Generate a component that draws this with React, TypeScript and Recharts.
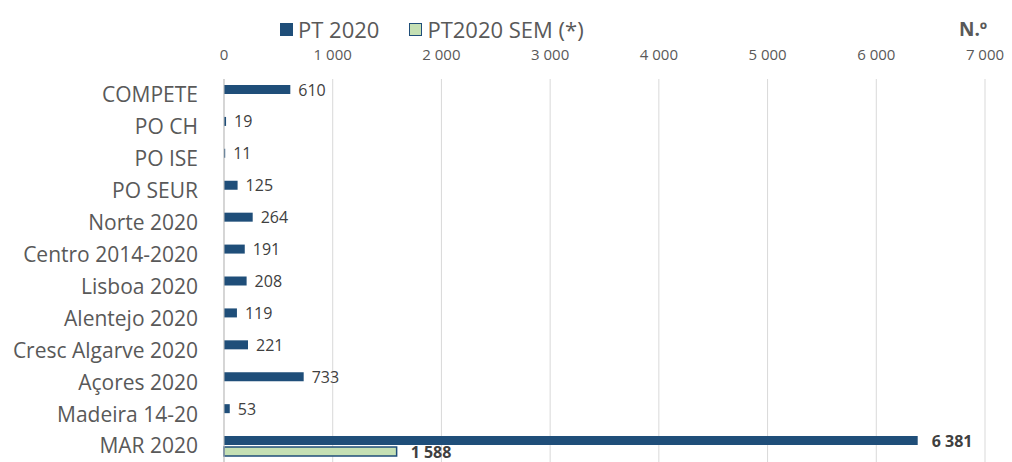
import React from 'react';
import { BarChart, Bar, XAxis, YAxis, CartesianGrid, LabelList } from 'recharts';

const categories = [
  'COMPETE',
  'PO CH',
  'PO ISE',
  'PO SEUR',
  'Norte 2020',
  'Centro 2014-2020',
  'Lisboa 2020',
  'Alentejo 2020',
  'Cresc Algarve 2020',
  'Açores 2020',
  'Madeira 14-20',
  'MAR 2020',
];
const pt2020 = [610, 19, 11, 125, 264, 191, 208, 119, 221, 733, 53, 6381];
const pt2020Sem: (number | null)[] = [null, null, null, null, null, null, null, null, null, null, null, 1588];
const xTicks = [0, 1000, 2000, 3000, 4000, 5000, 6000, 7000];
const boldCategory = 'MAR 2020';

const FONT = '"Open Sans", Lato, sans-serif';
const BLUE = '#1F4E79';
const GREEN = '#C5E0B4';

const chartData = categories.map((name, i) => ({
  name,
  pt: pt2020[i],
  sem: pt2020Sem[i],
}));

// thousands with a space, like the original (6 381)
const fmt = (v: number) => String(v).replace(/\B(?=(\d{3})+(?!\d))/g, ' ');

const makeLabel = (alwaysBold: boolean) => (props: any) => {
  const { x, y, width, height, value, index } = props;
  if (value === null || value === undefined) return null;
  const bold = alwaysBold || categories[index] === boldCategory;
  return (
    <text
      x={x + width + (bold ? 14 : 8)}
      y={y + height / 2}
      dy={6}
      fill="#404040"
      fontSize={16}
      fontFamily={FONT}
      fontWeight={bold ? 700 : 400}
    >
      {fmt(value)}
    </text>
  );
};
const PtLabel = makeLabel(false);
const SemLabel = makeLabel(true);

export default function App() {
  return (
    <div style={{ position: 'absolute', left: 0, top: 0, width: 1012, height: 462, background: '#fff' }}>
      <div
        style={{
          position: 'absolute',
          left: 280,
          top: 20,
          display: 'flex',
          alignItems: 'center',
          fontFamily: FONT,
          fontSize: 22,
          lineHeight: '18px',
          color: '#595959',
          whiteSpace: 'nowrap',
        }}
      >
        <span style={{ width: 13, height: 13, background: BLUE, display: 'inline-block', marginRight: 5 }} />
        <span style={{ marginRight: 30 }}>PT 2020</span>
        <span style={{ width: 11, height: 11, background: GREEN, border: `1.5px solid ${BLUE}`, display: 'inline-block', marginRight: 5 }} />
        <span>PT2020 SEM (*)</span>
      </div>
      <div
        style={{
          position: 'absolute',
          left: 959,
          top: 20,
          fontFamily: FONT,
          fontSize: 19,
          lineHeight: '19px',
          fontWeight: 700,
          color: '#595959',
        }}
      >
        N.º
      </div>
      <BarChart
        width={1012}
        height={462}
        data={chartData}
        layout="vertical"
        margin={{ top: 40, right: 27, left: 0, bottom: 0 }}
        barSize={9}
        barGap={2}
      >
        <CartesianGrid horizontal={false} stroke="#d9d9d9" />
        <XAxis
          type="number"
          orientation="top"
          domain={[0, 7000]}
          ticks={xTicks}
          height={39}
          axisLine={false}
          tickLine={false}
          tickMargin={13}
          tickFormatter={fmt}
          tick={{ fill: '#595959', fontSize: 15, fontFamily: FONT }}
        />
        <YAxis
          type="category"
          dataKey="name"
          width={224}
          axisLine={{ stroke: '#bfbfbf' }}
          tickLine={false}
          tickMargin={20}
          tick={{ fill: '#595959', fontSize: 21, fontFamily: FONT }}
          interval={0}
        />
        <Bar dataKey="pt" name="PT 2020" fill={BLUE} isAnimationActive={false}>
          <LabelList dataKey="pt" content={<PtLabel />} />
        </Bar>
        <Bar dataKey="sem" name="PT2020 SEM (*)" fill={GREEN} stroke={BLUE} strokeWidth={1.5} isAnimationActive={false}>
          <LabelList dataKey="sem" content={<SemLabel />} />
        </Bar>
      </BarChart>
    </div>
  );
}
